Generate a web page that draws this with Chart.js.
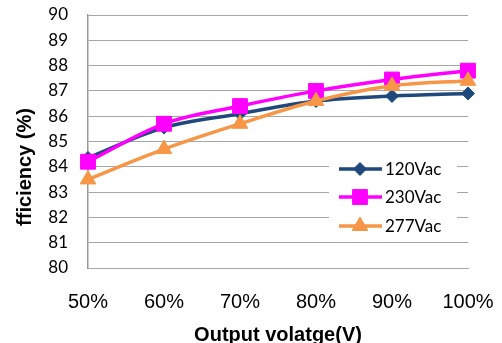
<!DOCTYPE html>
<html>
<head>
<meta charset="utf-8">
<script src="https://cdn.jsdelivr.net/npm/chart.js@4"></script>
<style>
  html, body { margin: 0; padding: 0; background: #fff; }
  #wrap { width: 502px; height: 343px; position: relative; }
</style>
</head>
<body>
<div id="wrap"><canvas id="c" width="502" height="343"></canvas></div>
<script>
// Efficiency vs. output voltage for three AC input voltages
const categories = ['50%', '60%', '70%', '80%', '90%', '100%'];
const seriesNames = ['120Vac', '230Vac', '277Vac'];
const eff120 = [84.35, 85.55, 86.1, 86.6, 86.8, 86.9];
const eff230 = [84.2, 85.7, 86.4, 87.0, 87.45, 87.8];
const eff277 = [83.5, 84.7, 85.7, 86.6, 87.2, 87.4];
const yTicks = [80, 81, 82, 83, 84, 85, 86, 87, 88, 89, 90];

const xTitle = 'Output volatge(V)';
const yTitle = 'fficiency (%)';

const colors = ['#1F497D', '#FF00FF', '#F79646'];
const pointStyles = ['rectRot', 'rect', 'triangle'];
const pointRadii = [6.5, 10.5, 9];

function makeDataset(i, values) {
  return {
    label: seriesNames[i],
    data: values,
    borderColor: colors[i],
    backgroundColor: colors[i],
    borderWidth: 3.5,
    pointStyle: pointStyles[i],
    pointRadius: pointRadii[i],
    pointHoverRadius: pointRadii[i],
    pointBorderWidth: 1,
    pointBorderColor: colors[i],
    pointBackgroundColor: colors[i],
    tension: 0.35,
    clip: false,
    order: 2 - i
  };
}

// Axis titles drawn at fixed spots around the plot
const axisTitles = {
  id: 'axisTitles',
  afterDraw(chart) {
    const ctx = chart.ctx;
    const area = chart.chartArea;
    ctx.save();
    ctx.fillStyle = '#000';
    ctx.font = 'bold 20px "Liberation Sans", Arial, sans-serif';
    ctx.textAlign = 'center';
    ctx.textBaseline = 'alphabetic';
    ctx.fillText(xTitle, (area.left + area.right) / 2, 341);
    ctx.translate(31, 167);
    ctx.rotate(-Math.PI / 2);
    ctx.fillText(yTitle, 0, 0);
    ctx.restore();
  }
};

// Legend box placed inside the plot, lower right
const innerLegend = {
  id: 'innerLegend',
  afterDatasetsDraw(chart) {
    const ctx = chart.ctx;
    ctx.save();
    ctx.fillStyle = '#fff';
    ctx.fillRect(329, 152, 128, 86);
    const rows = [169, 197, 226];
    chart.data.datasets.forEach((ds, i) => {
      const y = rows[i];
      ctx.strokeStyle = ds.borderColor;
      ctx.lineWidth = 3.5;
      ctx.beginPath();
      ctx.moveTo(339, y);
      ctx.lineTo(382, y);
      ctx.stroke();
      ctx.fillStyle = ds.backgroundColor;
      ctx.strokeStyle = ds.borderColor;
      ctx.lineWidth = 1;
      Chart.helpers.drawPoint(ctx, {
        pointStyle: ds.pointStyle,
        radius: ds.pointRadius,
        borderWidth: 1,
        rotation: 0
      }, 360, y);
      ctx.fillStyle = '#000';
      ctx.font = '17px Lato, sans-serif';
      ctx.textAlign = 'left';
      ctx.textBaseline = 'middle';
      ctx.fillText(ds.label, 385, y + 1);
    });
    ctx.restore();
  }
};

new Chart(document.getElementById('c'), {
  type: 'line',
  data: {
    labels: categories,
    datasets: [makeDataset(0, eff120), makeDataset(1, eff230), makeDataset(2, eff277)]
  },
  plugins: [axisTitles, innerLegend],
  options: {
    responsive: false,
    animation: false,
    events: [],
    layout: { padding: { top: 15, right: 34, left: 0, bottom: 0 } },
    plugins: {
      legend: { display: false },
      tooltip: { enabled: false },
      title: { display: false }
    },
    scales: {
      x: {
        type: 'category',
        offset: false,
        grid: { display: false, drawTicks: false },
        border: { display: true, color: '#a6a6a6', width: 1 },
        ticks: {
          color: '#000',
          font: { family: '"Liberation Sans", Arial, sans-serif', size: 20 },
          padding: 22,
          maxRotation: 0,
          autoSkip: false
        },
        afterFit(scale) {
          scale.height = 75;
          scale.paddingLeft = 0;
          scale.paddingRight = 0;
        }
      },
      y: {
        min: 80,
        max: 90,
        afterBuildTicks(scale) { scale.ticks = yTicks.map(v => ({ value: v })); },
        grid: { color: '#a6a6a6', lineWidth: 1, drawTicks: false },
        border: { display: true, color: '#9a9a9a', width: 1.5 },
        ticks: {
          color: '#000',
          font: { family: 'Lato, sans-serif', size: 17 },
          padding: 20
        },
        afterFit(scale) {
          scale.width = 88;
          scale.paddingTop = 0;
          scale.paddingBottom = 0;
        }
      }
    }
  }
});
</script>
</body>
</html>
